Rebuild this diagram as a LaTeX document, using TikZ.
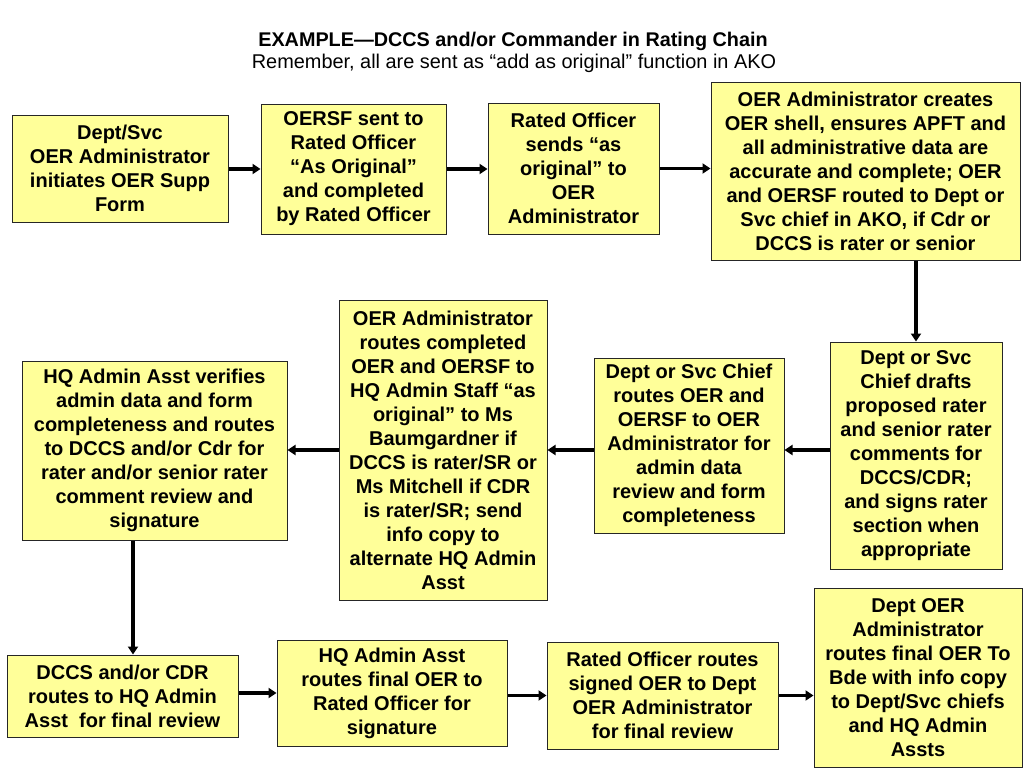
\documentclass[tikz,border=0pt]{standalone}
\usepackage{fontspec}
\setmainfont{Liberation Sans}
\usetikzlibrary{arrows.meta}
\definecolor{boxfill}{HTML}{FFFF99}
\begin{document}
\begin{tikzpicture}[x=1pt,y=-1pt,
  box/.style={draw=black!85, line width=1pt, fill=boxfill, align=center, inner sep=0pt,
    font=\fontsize{20}{24}\selectfont\bfseries},
  arr/.style={line width=3.2pt, -{Triangle[length=8pt,width=10pt]}},
  ttl/.style={inner sep=0pt, anchor=base, font=\fontsize{19.9}{23}\selectfont}]
\useasboundingbox (0,0) rectangle (1024,768);
\fill[white] (0,0) rectangle (1024,768);

\node[ttl, font=\fontsize{19.8}{23}\selectfont\bfseries] (t1) at (513,46) {EXAMPLE—DCCS and/or Commander in Rating Chain};
\node[ttl] (t2) at (514,68) {Remember, all are sent as “add as original” function in AKO};

% row 1
\node[box, minimum width=216pt, minimum height=107pt] (b1) at (120,168.5)
  {Dept/Svc\\OER Administrator\\initiates OER Supp\\Form};
\node[box, minimum width=185pt, minimum height=130pt] (b2) at (353.5,169)
  {OERSF sent to\\Rated Officer\\“As Original”\\and completed\\by Rated Officer};
\node[box, minimum width=171pt, minimum height=131pt] (b3) at (573.5,168.5)
  {Rated Officer\\sends “as\\original” to\\OER\\Administrator};
\node[box, minimum width=309pt, minimum height=178pt] (b4) at (865.5,171)
  {OER Administrator creates\\OER shell, ensures APFT and\\all administrative data are\\accurate and complete; OER\\and OERSF routed to Dept or\\Svc chief in AKO, if Cdr or\\DCCS is rater or senior};

% row 2
\node[box, minimum width=172pt, minimum height=227pt] (b5) at (916,455.5)
  {Dept or Svc\\Chief drafts\\proposed rater\\and senior rater\\comments for\\DCCS/CDR;\\and signs rater\\section when\\appropriate};
\node[box, minimum width=190pt, minimum height=175pt] (b6) at (689,445.5)
  {Dept or Svc Chief\\routes OER and\\OERSF to OER\\Administrator for\\admin data\\review and form\\completeness};
\node[box, minimum width=208pt, minimum height=300pt] (b7) at (443,450)
  {OER Administrator\\routes completed\\OER and OERSF to\\HQ Admin Staff “as\\original” to Ms\\Baumgardner if\\DCCS is rater/SR or\\Ms Mitchell if CDR\\is rater/SR; send\\info copy to\\alternate HQ Admin\\Asst};
\node[box, minimum width=265pt, minimum height=179pt] (b8) at (154.5,450.5)
  {HQ Admin Asst verifies\\admin data and form\\completeness and routes\\to DCCS and/or Cdr for\\rater and/or senior rater\\comment review and\\signature};

% row 3
\node[box, minimum width=231pt, minimum height=82pt] (b9) at (122.5,696)
  {DCCS and/or CDR\\routes to HQ Admin\\Asst~ for final review};
\node[box, minimum width=230pt, minimum height=106pt] (b10) at (392,693)
  {HQ Admin Asst\\routes final OER to\\Rated Officer for\\signature};
\node[box, minimum width=231pt, minimum height=107pt] (b11) at (662.5,695.5)
  {Rated Officer routes\\signed OER to Dept\\OER Administrator\\for final review};
\node[box, minimum width=208pt, minimum height=179pt] (b12) at (918,677.5)
  {Dept OER\\Administrator\\routes final OER To\\Bde with info copy\\to Dept/Svc chiefs\\and HQ Admin\\Assts};

% connectors
\draw[arr] (b1.east |- b2.west) -- (b2.west);
\draw[arr] (b2.east) -- (b2.east -| b3.west);
\draw[arr] (b3.east) -- (b3.east -| b4.west);
\draw[arr] (b4.south -| b5.north) -- (b5.north);
\draw[arr] (b5.west |- b7.center) -- (b6.east |- b7.center);
\draw[arr] (b6.west |- b7.center) -- (b7.east);
\draw[arr] (b7.west) -- (b7.west -| b8.east);
\draw[arr] ([xshift=-21.5pt]b8.south) -- ([xshift=-21.5pt]b8.south |- b9.north);
\draw[arr] (b9.east |- b10.west) -- (b10.west);
\draw[arr] (b10.east |- b11.west) -- (b11.west);
\draw[arr] (b11.east) -- (b11.east -| b12.west);
\end{tikzpicture}
\end{document}
